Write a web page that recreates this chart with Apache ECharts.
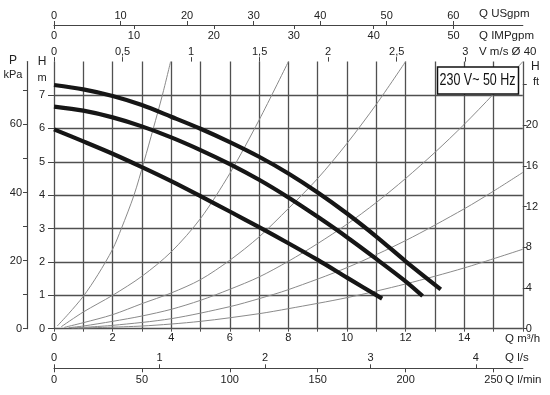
<!DOCTYPE html>
<html><head><meta charset="utf-8">
<script src="https://cdn.jsdelivr.net/npm/echarts@6/dist/echarts.min.js"></script>
<style>html,body{margin:0;padding:0;background:#fff}#c{width:550px;height:395px}</style>
</head><body><div id="c"></div>
<script>
// ---- tick values of the axes ----
const qLabels = [0, 2, 4, 6, 8, 10, 12, 14];          // Q m3/h
const hLabels = [0, 1, 2, 3, 4, 5, 6, 7];             // H m
const kpaTicks = [0, 10, 20, 30, 40, 50, 60, 70];
const kpaLabels = [0, 20, 40, 60];
const ftTicks = [0, 4, 8, 12, 16, 20, 24];
const ftLabels = [0, 4, 8, 12, 16, 20];
const lsTicks = [0, 1, 2, 3, 4];
const lminTicks = [0, 50, 100, 150, 200, 250];
const usTicks = [0, 10, 20, 30, 40, 50, 60];
const impTicks = [0, 10, 20, 30, 40, 50];
const velTicks = [0, 0.5, 1, 1.5, 2, 2.5, 3];

// ---- pump curves [Q m3/h, H m] ----
const speed3 = [[0,7.3],[1,7.17],[2,6.97],[3,6.7],[4,6.35],[5,5.99],[6,5.59],[7,5.15],[8,4.65],[9,4.08],[10,3.45],[11,2.76],[12,2.02],[13.2,1.18]];
const speed2 = [[0,6.65],[1,6.53],[2,6.33],[3,6.06],[4,5.73],[5,5.35],[6,4.93],[7,4.46],[8,3.93],[9,3.35],[10,2.74],[11,2.09],[12,1.42],[12.58,0.98]];
const speed1 = [[0,5.97],[1,5.61],[2,5.24],[3,4.84],[4,4.42],[5,3.97],[6,3.51],[7,3.04],[8,2.56],[9,2.06],[10,1.53],[11.2,0.9]];

// ---- system curves [Q m3/h, H m] ----
const sys1 = [[0.11,0.08],[0.5,0.45],[1,0.97],[1.5,1.62],[2,2.38],[2.3,3.0],[2.73,4.0],[3.07,5.0],[3.39,6.0],[3.7,7.0],[3.98,8.0]];
const sys2 = [[0.25,0.06],[1,0.5],[2,1.0],[3,1.57],[4,2.3],[5,3.3],[6,4.65],[7,6.25],[8,8]];
const sys3 = [[0.35,0.04],[1,0.18],[2,0.42],[3,0.75],[4,1.07],[5,1.47],[6,2.05],[7,2.75],[8,3.6],[9,4.5],[10,5.55],[11,6.72],[12,8]];
const sys4 = [[0.5,0.03],[1,0.08],[2,0.22],[3,0.38],[4,0.58],[5,0.85],[6,1.18],[7,1.55],[8,2.02],[9,2.55],[10,3.13],[11,3.78],[12,4.5],[13,5.28],[14,6.12],[15,7.03],[16,8]];
const sys5 = [[0.6,0.02],[2,0.1],[4,0.3],[6,0.66],[7,0.9],[8,1.17],[10,1.83],[12,2.64],[14,3.59],[15,4.12],[16,4.68]];
const sys6 = [[0.8,0.02],[3,0.08],[5,0.22],[7,0.45],[8,0.6],[10,0.93],[12,1.34],[14,1.82],[16,2.38]];

const FONT = '"Liberation Sans", Arial, sans-serif';
const TXT = '#222';
const GRID = '#505050';
const AX = '#444';
const lab = (extra) => Object.assign({color: TXT, fontSize: 11, fontFamily: FONT}, extra);
const comma = v => String(v).replace('.', ',');

const chart = echarts.init(document.getElementById('c'), null, {renderer: 'canvas'});

function txt(text, x, y, align, size) {
  return {type: 'text', z: 100, x: x, y: y,
    style: {text: text, x: 0, y: 0, fill: TXT, font: (size || 11) + 'px ' + FONT,
      align: align, verticalAlign: 'middle', textAlign: align, textVerticalAlign: 'middle'}};
}

const thin = (d) => ({type: 'line', data: d, xAxisIndex: 0, yAxisIndex: 0, smooth: 0.3,
  showSymbol: false, symbol: 'none', silent: true, lineStyle: {color: '#8a8a8a', width: 1}, z: 3});
const thick = (d) => ({type: 'line', data: d, xAxisIndex: 0, yAxisIndex: 0, smooth: 0.3,
  showSymbol: false, symbol: 'none', silent: true, lineStyle: {color: '#161616', width: 4.2, cap: 'butt'}, z: 5});

const line = (show) => ({show: show, onZero: false, lineStyle: {color: AX, width: 1.2}});

const option = {
  animation: false,
  backgroundColor: '#fff',
  grid: {left: 54, top: 61.6, width: 468.8, height: 267.1, containLabel: false},
  xAxis: [
    { // Q m3/h
      type: 'value', position: 'bottom', min: 0, max: 16, interval: 1,
      axisLine: line(false),
      axisTick: {show: true, length: 3, lineStyle: {color: GRID}},
      axisLabel: lab({margin: 4, customValues: qLabels}),
      splitLine: {show: true, lineStyle: {color: GRID, width: 1.3}}
    },
    { // Q l/s
      type: 'value', position: 'bottom', offset: 39.6, min: 0, max: 16 / 3.6,
      axisLine: line(true),
      axisTick: {show: true, inside: true, length: 4, customValues: lsTicks, lineStyle: {color: AX}},
      axisLabel: lab({inside: true, margin: 5, customValues: lsTicks}),
      splitLine: {show: false}
    },
    { // Q l/min
      type: 'value', position: 'bottom', offset: 39.6, min: 0, max: 16 / 0.06,
      axisLine: line(false),
      axisTick: {show: true, length: 4, customValues: lminTicks, lineStyle: {color: AX}},
      axisLabel: lab({margin: 6, customValues: lminTicks}),
      splitLine: {show: false}
    },
    { // V m/s
      type: 'value', position: 'top', offset: 0, min: 0, max: 16 / 4.678,
      axisLine: line(false),
      axisTick: {show: true, length: 4.5, customValues: velTicks, lineStyle: {color: AX}},
      axisLabel: lab({margin: 4, customValues: velTicks, formatter: comma}),
      splitLine: {show: false}
    },
    { // Q USgpm
      type: 'value', position: 'top', offset: 36.6, min: 0, max: 16 * 4.40287,
      axisLine: line(true),
      axisTick: {show: true, length: 4, customValues: usTicks, lineStyle: {color: AX}},
      axisLabel: lab({margin: 4, customValues: usTicks}),
      splitLine: {show: false}
    },
    { // Q IMPgpm
      type: 'value', position: 'top', offset: 36.6, min: 0, max: 16 * 3.66615,
      axisLine: line(false),
      axisTick: {show: true, inside: true, length: 4, customValues: impTicks, lineStyle: {color: AX}},
      axisLabel: lab({inside: true, margin: 5, customValues: impTicks}),
      splitLine: {show: false}
    }
  ],
  yAxis: [
    { // H m
      type: 'value', position: 'left', min: 0, max: 8, interval: 1,
      axisLine: line(false),
      axisTick: {show: true, length: 6, customValues: hLabels, lineStyle: {color: AX}},
      axisLabel: lab({margin: 9, customValues: hLabels}),
      splitLine: {show: true, lineStyle: {color: GRID, width: 1.3}}
    },
    { // P kPa
      type: 'value', position: 'left', offset: 27, min: 0, max: 8 * 9.80665,
      axisLine: line(true),
      axisTick: {show: true, length: 4, customValues: kpaTicks, lineStyle: {color: AX}},
      axisLabel: lab({margin: 5, customValues: kpaLabels}),
      splitLine: {show: false}
    },
    { // H ft
      type: 'value', position: 'right', min: 0, max: 8 / 0.3048,
      axisLine: line(false),
      axisTick: {show: true, length: 4, customValues: ftTicks, lineStyle: {color: AX}},
      axisLabel: lab({margin: 3, customValues: ftLabels}),
      splitLine: {show: false}
    }
  ],
  series: [
    thin(sys1), thin(sys2), thin(sys3), thin(sys4), thin(sys5), thin(sys6),
    thick(speed3), thick(speed2), thick(speed1)
  ],
  graphic: [
    txt('Q USgpm', 479, 14, 'left', 11.5),
    txt('Q IMPgpm', 479, 36, 'left', 11.5),
    txt('V m/s Ø 40', 479, 52, 'left', 11.5),
    txt('H', 531, 67, 'left', 12),
    txt('ft', 533, 82, 'left'),
    txt('P', 13, 61, 'center', 12),
    txt('kPa', 13, 75, 'center'),
    txt('H', 42, 62, 'center', 12),
    txt('m', 42, 78, 'center'),
    txt('Q m³/h', 505, 339, 'left', 11.5),
    txt('Q l/s', 505, 357.5, 'left', 11.5),
    txt('Q l/min', 505, 380, 'left', 11.5),
    {type: 'rect', z: 100, shape: {x: 437.5, y: 67, width: 81, height: 27},
      style: {fill: '#fff', stroke: '#111', lineWidth: 1.5}},
    {type: 'text', z: 101, x: 477.5, y: 80.5, scaleX: 0.78,
      style: {text: '230 V~ 50 Hz', x: 0, y: 0, fill: '#111', font: '16px ' + FONT,
        align: 'center', verticalAlign: 'middle', textAlign: 'center', textVerticalAlign: 'middle'}}
  ]
};
chart.setOption(option);
</script>
</body></html>
